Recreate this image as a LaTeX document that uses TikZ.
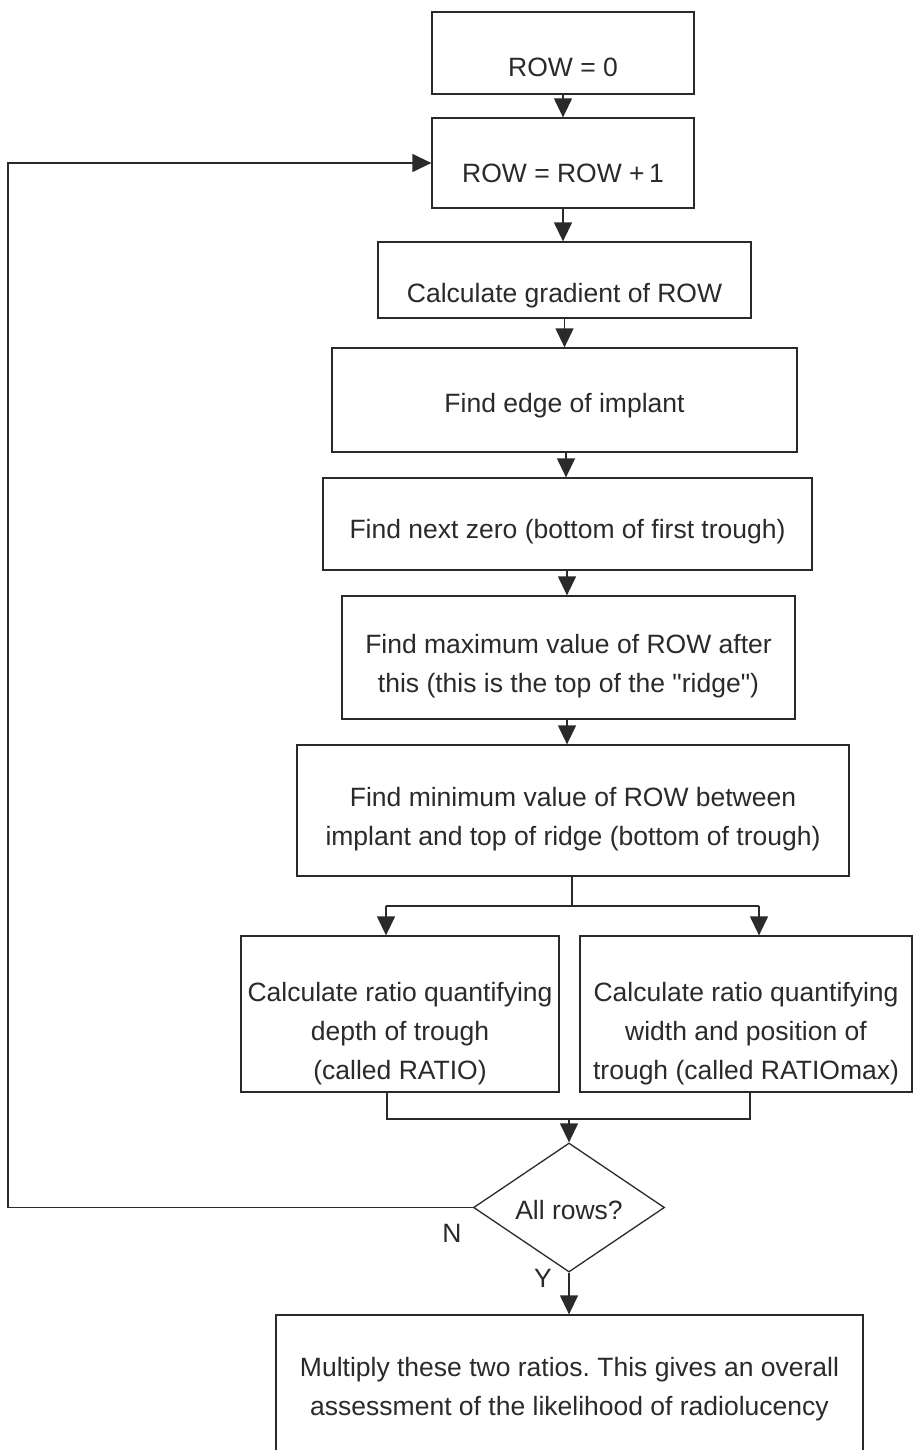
\documentclass[tikz,border=0pt]{standalone}
\usepackage{fontspec}
\setmainfont{Liberation Sans}[Ligatures=TeXOff]
\usetikzlibrary{arrows.meta,shapes.geometric}
\definecolor{ink}{HTML}{2A2A2A}
\frenchspacing
\begin{document}
\begin{tikzpicture}[x=1pt,y=-1pt,
  every node/.style={text=ink},
  boxframe/.style={draw=ink,line width=1.3pt,rectangle,inner sep=0pt},
  lbl/.style={font=\fontsize{26.5}{39}\selectfont,align=center,inner sep=0pt},
  flow/.style={draw=ink,line width=1.3pt,-{Triangle[width=18pt,length=19pt]}},
  line/.style={draw=ink,line width=1.3pt}]
\useasboundingbox (0,0) rectangle (917,1450);
\fill[white] (0,0) rectangle (917,1450);
\node[boxframe,minimum width=262pt,minimum height=82pt] (b1) at (563,53) {};
\node[lbl] (t1) at (563,67) {ROW = 0};
\node[boxframe,minimum width=262pt,minimum height=90pt] (b2) at (563,163) {};
\node[lbl] (t2) at (563,173) {ROW = ROW +\,1};
\node[boxframe,minimum width=373pt,minimum height=76pt] (b3) at (564.5,280) {};
\node[lbl] (t3) at (564.5,296) {Calculate gradient of ROW};
\node[boxframe,minimum width=465pt,minimum height=104pt] (b4) at (564.5,400) {};
\node[lbl] (t4) at (564.5,406) {Find edge of implant};
\node[boxframe,minimum width=489pt,minimum height=92pt] (b5) at (567.5,524) {};
\node[lbl] (t5) at (567.5,532) {Find next zero (bottom of first trough)};
\node[boxframe,minimum width=453pt,minimum height=123pt] (b6) at (568.5,657.5) {};
\node[lbl] (t6) at (568.5,666) {Find maximum value of ROW after\\this (this is the top of the "ridge")};
\node[boxframe,minimum width=552pt,minimum height=131pt] (b7) at (573,810.5) {};
\node[lbl] (t7) at (573,819) {Find minimum value of ROW between\\implant and top of ridge (bottom of trough)};
\node[boxframe,minimum width=318pt,minimum height=156pt] (b8) at (400,1014) {};
\node[lbl] (t8) at (400,1034) {Calculate ratio quantifying\\depth of trough\\(called RATIO)};
\node[boxframe,minimum width=332pt,minimum height=156pt] (b9) at (746,1014) {};
\node[lbl] (t9) at (746,1034) {Calculate ratio quantifying\\width and position of\\trough (called RATIOmax)};
\node[draw=ink,line width=1.3pt,diamond,minimum width=191pt,minimum height=129pt,inner sep=0pt] (d) at (569,1207.5) {};
\node[lbl] (td) at (569,1210) {All rows?};
\node[lbl] (n) at (452,1233) {N};
\node[lbl] (y) at (543,1278) {Y};
\node[boxframe,minimum width=587pt,minimum height=140pt] (b10) at (569.5,1385) {};
\node[lbl] (t10) at (569.5,1389) {Multiply these two ratios. This gives an overall\\assessment of the likelihood of radiolucency};
\draw[flow] (b1.south) -- (b2.north);
\draw[flow] (b2.south) -- (b3.north -| b2.south);
\draw[flow] (b3.south) -- (b4.north -| b3.south);
\draw[flow] (b4.south -| 566,0) -- (b5.north -| 566,0);
\draw[flow] (b5.south -| 567,0) -- (b6.north -| 567,0);
\draw[flow] (b6.south -| 567,0) -- (b7.north -| 567,0);
\coordinate (br) at (572,906);
\draw[line] (b7.south -| br) -- (br);
\draw[line] (386,906) -- (759,906);
\draw[flow] (386,906) -- (b8.north -| 386,0);
\draw[flow] (759,906) -- (b9.north -| 759,0);
\coordinate (mg) at (569,1119);
\draw[line] (b8.south -| 387,0) |- (mg) -| (b9.south -| 750,0);
\draw[flow] (mg) -- (d.north);
\draw[flow] (d.south) -- (b10.north -| d.south);
\coordinate (fb1) at (8,1207.5);
\coordinate (fb2) at (8,163);
\draw[flow] (d.west) -- (fb1) -- (fb2) -- (b2.west);
\end{tikzpicture}
\end{document}
